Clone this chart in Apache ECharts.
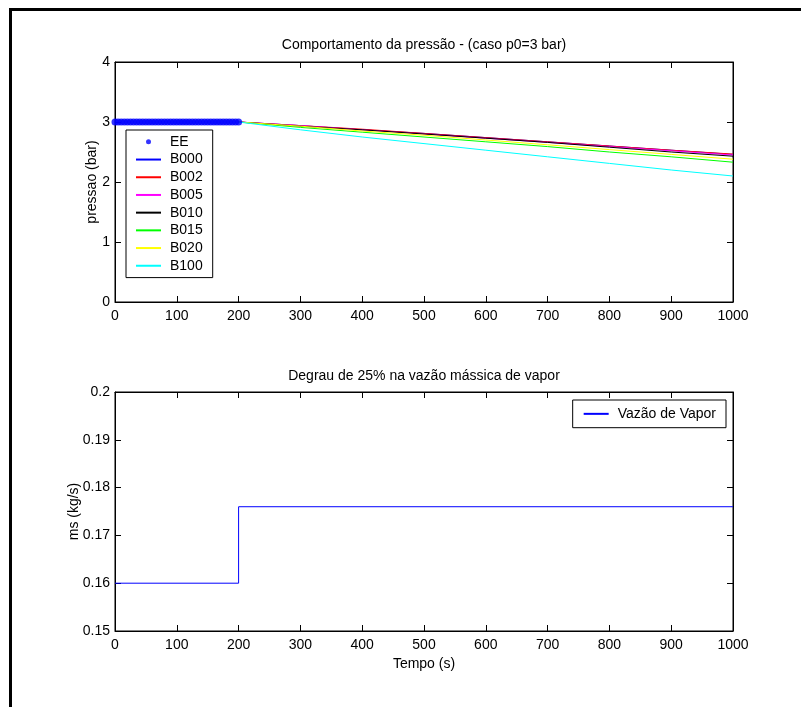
<!DOCTYPE html>
<html>
<head>
<meta charset="utf-8">
<script src="https://cdn.jsdelivr.net/npm/echarts@6/dist/echarts.min.js"></script>
<style>html,body{margin:0;padding:0;background:#fff}#c{width:801px;height:707px}</style>
</head>
<body>
<div id="c"></div>
<script>
// ---- data ----
const eeTime = [0,5,10,15,20,25,30,35,40,45,50,55,60,65,70,75,80,85,90,95,100,105,110,115,120,125,130,135,140,145,150,155,160,165,170,175,180,185,190,195,200];
const eeValues = [3,3,3,3,3,3,3,3,3,3,3,3,3,3,3,3,3,3,3,3,3,3,3,3,3,3,3,3,3,3,3,3,3,3,3,3,3,3,3,3,3];
const simTime = [200,300,400,500,600,700,800,900,1000];
const B000 = [3.00,2.94,2.87,2.81,2.74,2.67,2.60,2.53,2.46];
const B002 = [3.00,2.94,2.88,2.81,2.74,2.67,2.60,2.53,2.465];
const B005 = [3.00,2.94,2.87,2.80,2.73,2.66,2.59,2.52,2.45];
const B010 = [3.00,2.93,2.87,2.80,2.73,2.66,2.58,2.50,2.43];
const B015 = [3.00,2.91,2.83,2.75,2.67,2.59,2.50,2.42,2.33];
const B020 = [3.00,2.93,2.85,2.78,2.70,2.62,2.54,2.46,2.38];
const B100 = [3.00,2.87,2.75,2.64,2.53,2.42,2.31,2.20,2.10];
const flowTime = [0,200,200,1000];
const flowValues = [0.16,0.16,0.176,0.176];
const seriesNames = ['B000','B002','B005','B010','B015','B020','B100'];
const seriesColors = ['#0000ff','#ff0000','#ff00ff','#000000','#00ff00','#ffff00','#00ffff'];
const seriesData = [B000,B002,B005,B010,B015,B020,B100];
const title1 = 'Comportamento da pressão - (caso p0=3 bar)';
const title2 = 'Degrau de 25% na vazão mássica de vapor';

// ---- chart ----
const FONT = 'Liberation Sans, Arial, Helvetica, sans-serif';
const FS = 14;
const chart = echarts.init(document.getElementById('c'), null, {renderer:'canvas'});
const pair = (xs, ys) => xs.map((x,i)=>[x, ys[i]]);
const plain = v => String(v);

function xAx(grid, pos, labels, extra){
  return Object.assign({
    type:'value', gridIndex:grid, position:pos, min:0, max:1000, interval:100,
    axisLine:{show:true, onZero:false, lineStyle:{color:'#000', width:1}},
    axisTick:{show:true, inside:true, length:6, lineStyle:{color:'#000'}},
    axisLabel:{show:labels, color:'#000', fontFamily:FONT, fontSize:FS, margin:7, formatter:plain},
    splitLine:{show:false}
  }, extra||{});
}
function yAx(grid, pos, labels, min, max, interval, extra){
  return Object.assign({
    type:'value', gridIndex:grid, position:pos, min:min, max:max, interval:interval,
    axisLine:{show:true, onZero:false, lineStyle:{color:'#000', width:1}},
    axisTick:{show:true, inside:true, length:6, lineStyle:{color:'#000'}},
    axisLabel:{show:labels, color:'#000', fontFamily:FONT, fontSize:FS, margin:5},
    splitLine:{show:false}
  }, extra||{});
}

const series = [{
  name:'EE', type:'scatter', xAxisIndex:0, yAxisIndex:0,
  data: pair(eeTime, eeValues), symbol:'circle', symbolSize:7,
  itemStyle:{color:'#0000ff'}, z:3
}];
seriesNames.forEach((n,i)=>{
  series.push({
    name:n, type:'line', xAxisIndex:0, yAxisIndex:0,
    data: pair(simTime, seriesData[i]), symbol:'none', showSymbol:false,
    lineStyle:{color:seriesColors[i], width:1}, itemStyle:{color:seriesColors[i]}
  });
});
series.push({
  name:'Vazão de Vapor', type:'line', xAxisIndex:2, yAxisIndex:2,
  data: pair(flowTime, flowValues), symbol:'none', showSymbol:false,
  lineStyle:{color:'#0000ff', width:1}, itemStyle:{color:'#0000ff'}
});

const legendText = {color:'#000', fontFamily:FONT, fontSize:FS, lineHeight:17.7, padding:[0,0,0,4]};
const nameStyle = {color:'#000', fontFamily:FONT, fontSize:FS};

chart.setOption({
  animation:false,
  backgroundColor:'#fff',
  grid:[
    {left:115, top:62, width:618, height:240, show:true, borderColor:'#000', borderWidth:1, containLabel:false},
    {left:115, top:392, width:618, height:239, show:true, borderColor:'#000', borderWidth:1, containLabel:false}
  ],
  xAxis:[
    xAx(0,'bottom',true),
    xAx(0,'top',false),
    xAx(1,'bottom',true,{name:'Tempo (s)', nameLocation:'middle', nameGap:26, nameMoveOverlap:false, nameTextStyle:nameStyle}),
    xAx(1,'top',false)
  ],
  yAxis:[
    yAx(0,'left',true,0,4,1,{name:'pressao (bar)', nameLocation:'middle', nameGap:16, nameMoveOverlap:false, nameTextStyle:nameStyle}),
    yAx(0,'right',false,0,4,1),
    yAx(1,'left',true,0.15,0.2,0.01,{name:'ms (kg/s)', nameLocation:'middle', nameGap:34, nameMoveOverlap:false, nameTextStyle:nameStyle}),
    yAx(1,'right',false,0.15,0.2,0.01)
  ],
  legend:[
    {
      data:[{name:'EE', icon:'circle'}].concat(seriesNames.map(n=>({name:n, itemStyle:{opacity:0}}))),
      orient:'vertical', left:126, top:130, itemWidth:25, itemHeight:5, itemGap:0,
      padding:[3,10,3,9], borderColor:'#000', borderWidth:1, backgroundColor:'#fff',
      textStyle:legendText, selectedMode:false
    },
    {
      data:[{name:'Vazão de Vapor', itemStyle:{opacity:0}}],
      orient:'vertical', right:75, top:400, itemWidth:25, itemHeight:5, itemGap:0,
      padding:[5,10,5,10], borderColor:'#000', borderWidth:1, backgroundColor:'#fff',
      textStyle:legendText, selectedMode:false
    }
  ],
  graphic:[
    {type:'rect', shape:{x:10.5, y:9.5, width:1000, height:1000}, style:{fill:null, stroke:'#000', lineWidth:3}, z:-10, silent:true},
    {type:'text', x:424, y:45, style:{text:title1, fill:'#000', font:FS+'px '+FONT, textAlign:'center', textVerticalAlign:'middle'}},
    {type:'text', x:424, y:376, style:{text:title2, fill:'#000', font:FS+'px '+FONT, textAlign:'center', textVerticalAlign:'middle'}}
  ],
  series:series
});
</script>
</body>
</html>
